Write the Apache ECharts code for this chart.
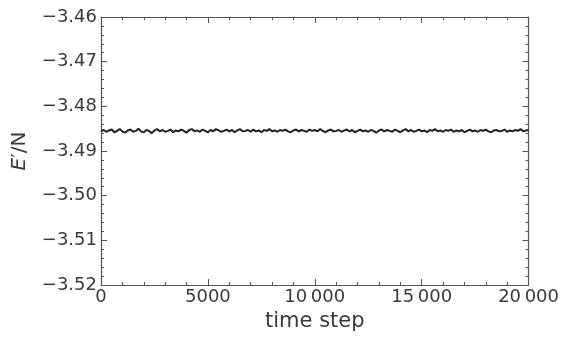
<!DOCTYPE html>
<html>
<head>
<meta charset="utf-8">
<script src="https://cdn.jsdelivr.net/npm/echarts@6/dist/echarts.min.js"></script>
<style>html,body{margin:0;padding:0;background:#fff;}#c{width:562px;height:341px;}</style>
</head>
<body>
<div id="c"></div>
<script>
const timeSteps = [];
const energy = [
-3.4856,-3.4853,-3.4857,-3.4854,-3.4852,-3.4858,-3.4855,-3.4851,-3.4856,-3.4859,
-3.4854,-3.4852,-3.4857,-3.4855,-3.4850,-3.4856,-3.4858,-3.4853,-3.4855,-3.4860,
-3.4854,-3.4851,-3.4856,-3.4853,-3.4857,-3.4855,-3.4852,-3.4858,-3.4854,-3.4856,
-3.4852,-3.4855,-3.4859,-3.4853,-3.4851,-3.4856,-3.4854,-3.4857,-3.4852,-3.4855,
-3.4858,-3.4853,-3.4856,-3.4851,-3.4854,-3.4857,-3.4855,-3.4852,-3.4856,-3.4853,
-3.4858,-3.4854,-3.4851,-3.4856,-3.4855,-3.4853,-3.4857,-3.4852,-3.4856,-3.4854,
-3.4858,-3.4853,-3.4855,-3.4851,-3.4856,-3.4854,-3.4857,-3.4853,-3.4855,-3.4852,
-3.4856,-3.4858,-3.4854,-3.4852,-3.4856,-3.4853,-3.4855,-3.4857,-3.4852,-3.4855,
-3.4853,-3.4856,-3.4851,-3.4855,-3.4858,-3.4854,-3.4852,-3.4856,-3.4855,-3.4853,
-3.4857,-3.4854,-3.4852,-3.4856,-3.4853,-3.4858,-3.4855,-3.4852,-3.4856,-3.4854,
-3.4857,-3.4853,-3.4855,-3.4859,-3.4854,-3.4852,-3.4856,-3.4853,-3.4855,-3.4857,
-3.4852,-3.4855,-3.4858,-3.4854,-3.4851,-3.4856,-3.4853,-3.4857,-3.4855,-3.4852,
-3.4856,-3.4854,-3.4858,-3.4853,-3.4855,-3.4851,-3.4856,-3.4854,-3.4857,-3.4853,
-3.4855,-3.4852,-3.4857,-3.4854,-3.4856,-3.4853,-3.4858,-3.4855,-3.4852,-3.4856,
-3.4854,-3.4857,-3.4853,-3.4855,-3.4852,-3.4856,-3.4858,-3.4854,-3.4853,-3.4856,
-3.4855,-3.4852,-3.4857,-3.4854,-3.4856,-3.4853,-3.4855,-3.4851,-3.4856,-3.4854,
-3.4853
];
for (let i = 0; i < energy.length; i++) timeSteps.push(i * 125);

const xTicks = { min: 0, max: 20000, interval: 5000 };
const yTicks = { min: -3.52, max: -3.46, interval: 0.01 };

const fontFam = '"DejaVu Sans", "Open Sans", sans-serif';
const axisCol = '#555';
const textCol = '#3a3a3a';

function fmtX(v) {
  if (v >= 10000) { const s = String(v); return s.slice(0, s.length - 3) + '\u2009' + s.slice(-3); }
  return String(v);
}
function fmtY(v) { return '\u2212' + Math.abs(v).toFixed(2); }

const baseX = {
  type: 'value', min: xTicks.min, max: xTicks.max, interval: xTicks.interval,
  axisLine: { show: true, onZero: false, lineStyle: { color: axisCol, width: 1.2 } },
  axisTick: { show: true, inside: true, length: 6, lineStyle: { color: axisCol } },
  minorTick: { show: true, splitNumber: 5, length: 3, lineStyle: { color: axisCol } },
  splitLine: { show: false }
};
const baseY = {
  type: 'value', min: yTicks.min, max: yTicks.max, interval: yTicks.interval,
  axisLine: { show: true, onZero: false, lineStyle: { color: axisCol, width: 1.2 } },
  axisTick: { show: true, inside: true, length: 6, lineStyle: { color: axisCol } },
  minorTick: { show: true, splitNumber: 5, length: 3, lineStyle: { color: axisCol } },
  splitLine: { show: false }
};

const chart = echarts.init(document.getElementById('c'), null, { renderer: 'canvas' });
chart.setOption({
  animation: false,
  backgroundColor: '#fff',
  grid: { left: 101, right: 33, top: 17, bottom: 56, containLabel: false },
  xAxis: [
    Object.assign({}, baseX, {
      position: 'bottom',
      axisLabel: { show: true, formatter: fmtX, color: textCol, fontSize: 18, fontFamily: fontFam, margin: 3 },
      name: 'time step', nameLocation: 'middle', nameGap: 24,
      nameTextStyle: { color: textCol, fontSize: 21, fontFamily: fontFam }
    }),
    Object.assign({}, baseX, { position: 'top', axisLabel: { show: false } })
  ],
  yAxis: [
    Object.assign({}, baseY, {
      position: 'left',
      axisLabel: { show: true, formatter: fmtY, color: textCol, fontSize: 18, fontFamily: fontFam, margin: 4 },
      name: '{i|E}{n|\u2032/N}', nameLocation: 'middle', nameGap: 71, nameRotate: 90,
      nameTextStyle: { color: textCol, fontSize: 20, fontFamily: fontFam,
        rich: { i: { fontStyle: 'italic', fontSize: 20, fontFamily: fontFam, color: textCol },
                n: { fontSize: 20, fontFamily: fontFam, color: textCol } } }
    }),
    Object.assign({}, baseY, { position: 'right', axisLabel: { show: false } })
  ],
  series: [{
    type: 'line', xAxisIndex: 0, yAxisIndex: 0, showSymbol: false,
    data: timeSteps.map((t, i) => [t, energy[i]]),
    lineStyle: { color: '#222', width: 2 }
  }]
});
</script>
</body>
</html>
